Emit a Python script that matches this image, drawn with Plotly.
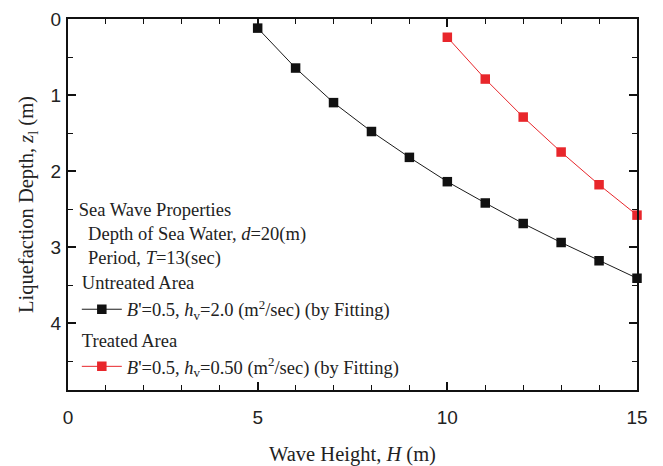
import plotly.graph_objects as go

wave_height_untreated = [5, 6, 7, 8, 9, 10, 11, 12, 13, 14, 15]
depth_untreated = [0.12, 0.645, 1.10, 1.48, 1.82, 2.14, 2.42, 2.69, 2.94, 3.18, 3.41]
wave_height_treated = [10, 11, 12, 13, 14, 15]
depth_treated = [0.24, 0.79, 1.29, 1.75, 2.18, 2.58]

name_untreated = "<i>B</i>'=0.5, <i>h</i><sub>v</sub>=2.0 (m<sup>2</sup>/sec) (by Fitting)"
name_treated = "<i>B</i>'=0.5, <i>h</i><sub>v</sub>=0.50 (m<sup>2</sup>/sec) (by Fitting)"

serif = "Liberation Serif"
sans = "Liberation Sans"
txt = "#222222"

fig = go.Figure()
fig.add_trace(go.Scatter(
    x=wave_height_untreated, y=depth_untreated, mode="lines+markers",
    name=name_untreated, legendgroup="u",
    legendgrouptitle=dict(text="Untreated Area", font=dict(family=serif, size=18.5, color=txt)),
    line=dict(color="#1a1a1a", width=1),
    marker=dict(symbol="square", size=9.5, color="#111111"),
    cliponaxis=False,
))
fig.add_trace(go.Scatter(
    x=wave_height_treated, y=depth_treated, mode="lines+markers",
    name=name_treated, legendgroup="t",
    legendgrouptitle=dict(text="Treated Area", font=dict(family=serif, size=18.5, color=txt)),
    line=dict(color="#e8262b", width=1),
    marker=dict(symbol="square", size=9.5, color="#e8262b"),
    cliponaxis=False,
))

fig.update_layout(
    width=655, height=458,
    margin=dict(l=60, r=26, t=11, b=76, autoexpand=False),
    plot_bgcolor="white", paper_bgcolor="white",
    legend=dict(
        x=0.0155, y=0.535, xanchor="left", yanchor="top",
        bgcolor="rgba(0,0,0,0)",
        font=dict(family=serif, size=18.5, color=txt),
        title=dict(
            text="Sea Wave Properties<br>\u00a0\u00a0Depth of Sea Water, <i>d</i>=20(m)<br>\u00a0\u00a0Period, <i>T</i>=13(sec)",
            font=dict(family=serif, size=18.5, color=txt),
        ),
        tracegroupgap=3,
        itemwidth=40,
    ),
)

fig.update_xaxes(
    range=[0, 15], tickvals=[0, 5, 10, 15],
    ticks="inside", ticklen=8, tickwidth=1.5, tickcolor="#111",
    minor=dict(dtick=1, ticks="inside", ticklen=5, tickwidth=1.2, tickcolor="#111"),
    showline=True, linecolor="#111", linewidth=2, mirror="allticks",
    showgrid=False, zeroline=False, automargin=False,
    tickfont=dict(family=sans, size=19, color=txt),
    ticklabelstandoff=9,
    title=dict(text="Wave Height, <i>H</i> (m)", font=dict(family=serif, size=20.5, color=txt), standoff=21),
)
fig.update_yaxes(
    range=[4.88, 0], tickvals=[0, 1, 2, 3, 4],
    ticks="inside", ticklen=8, tickwidth=1.5, tickcolor="#111",
    minor=dict(dtick=0.5, tick0=0, ticks="inside", ticklen=5, tickwidth=1.2, tickcolor="#111"),
    showline=True, linecolor="#111", linewidth=2, mirror="allticks",
    showgrid=False, zeroline=False, automargin=False,
    tickfont=dict(family=sans, size=19, color=txt),
    ticklabelstandoff=1,
    title=dict(text="Liquefaction Depth, <i>z</i><sub>l</sub> (m)", font=dict(family=serif, size=20.5, color=txt), standoff=11),
)

fig.write_html("out.html")
